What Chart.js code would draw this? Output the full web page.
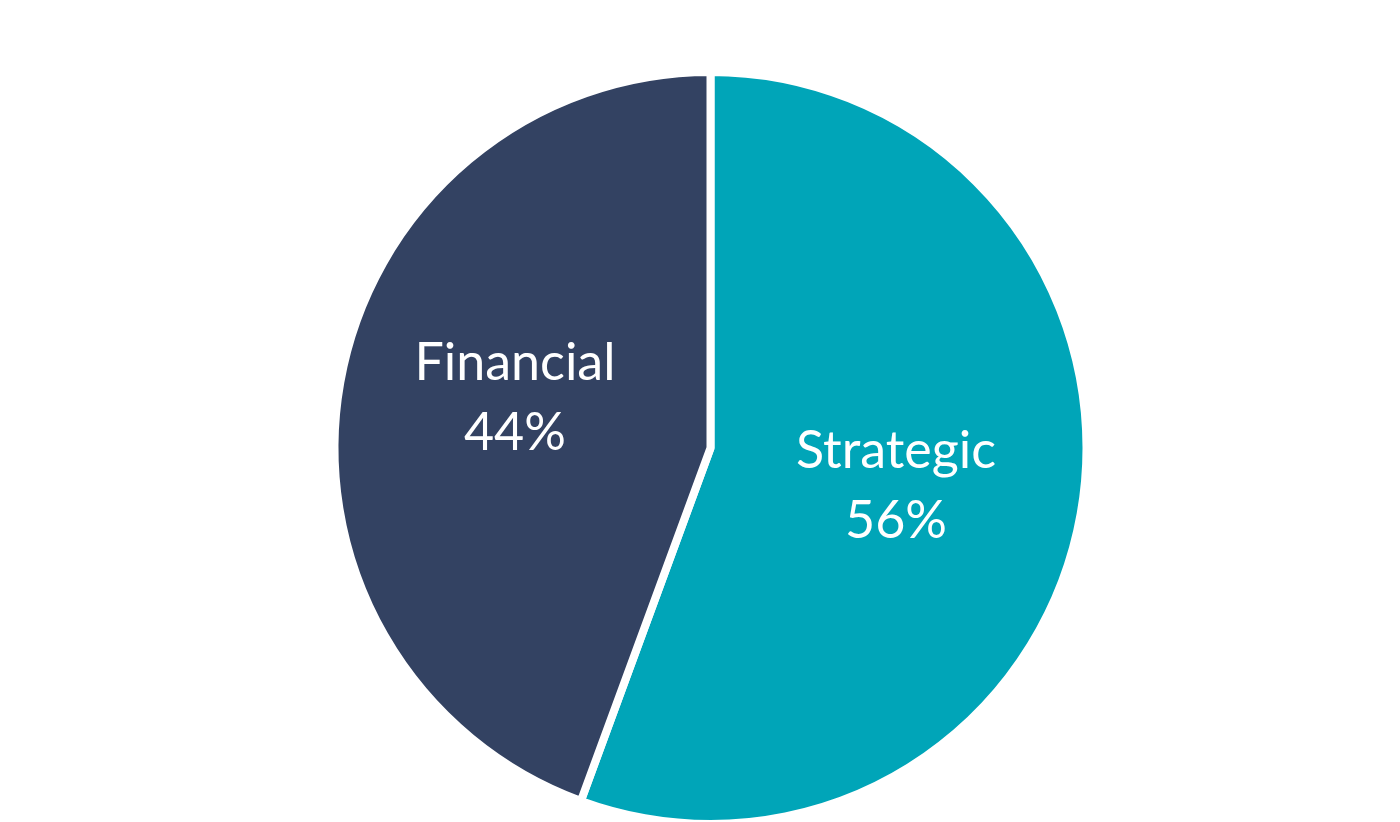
<!DOCTYPE html>
<html>
<head>
<meta charset="utf-8">
<script src="https://cdn.jsdelivr.net/npm/chart.js@4"></script>
<style>
  html, body { margin: 0; padding: 0; background: #ffffff; overflow: hidden; }
  #wrap { width: 1400px; height: 822px; overflow: hidden; }
</style>
</head>
<body>
<div id="wrap"><canvas id="chart-container" width="1400" height="830"></canvas></div>
<script>
const categories = ['Strategic', 'Financial'];
const shares = [55.6, 44.4];
const sliceColors = ['#00A5B8', '#334262'];

// draws "name" + "xx%" inside each slice, like the office chart
const sliceLabels = {
    id: 'sliceLabels',
    afterDatasetsDraw(chart) {
        const ctx = chart.ctx;
        const meta = chart.getDatasetMeta(0);
        ctx.save();
        ctx.fillStyle = '#ffffff';
        ctx.font = '52px Lato, "Open Sans", sans-serif';
        ctx.textAlign = 'center';
        ctx.textBaseline = 'middle';
        meta.data.forEach((arc, i) => {
            const p = arc.getProps(['x', 'y', 'startAngle', 'endAngle', 'outerRadius']);
            // label sits a little past the slice's middle angle
            const mid = (p.startAngle + p.endAngle) / 2 + 0.05;
            const r = p.outerRadius * 0.52;
            const cx = p.x + Math.cos(mid) * r - 5;
            const cy = p.y + Math.sin(mid) * r - 6;
            ctx.fillText(categories[i], cx, cy - 35);
            ctx.fillText(Math.round(shares[i]) + '%', cx, cy + 35);
        });
        ctx.restore();
    }
};

const ctx = document.getElementById('chart-container').getContext('2d');
new Chart(ctx, {
    type: 'pie',
    data: {
        labels: categories,
        datasets: [{
            data: shares,
            backgroundColor: sliceColors,
            borderColor: '#ffffff',
            borderWidth: 8
        }]
    },
    options: {
        responsive: false,
        animation: false,
        layout: { padding: { top: 68, bottom: 2, left: 21, right: 0 } },
        plugins: {
            legend: { display: false },
            tooltip: { enabled: false }
        }
    },
    plugins: [sliceLabels]
});
</script>
</body>
</html>
